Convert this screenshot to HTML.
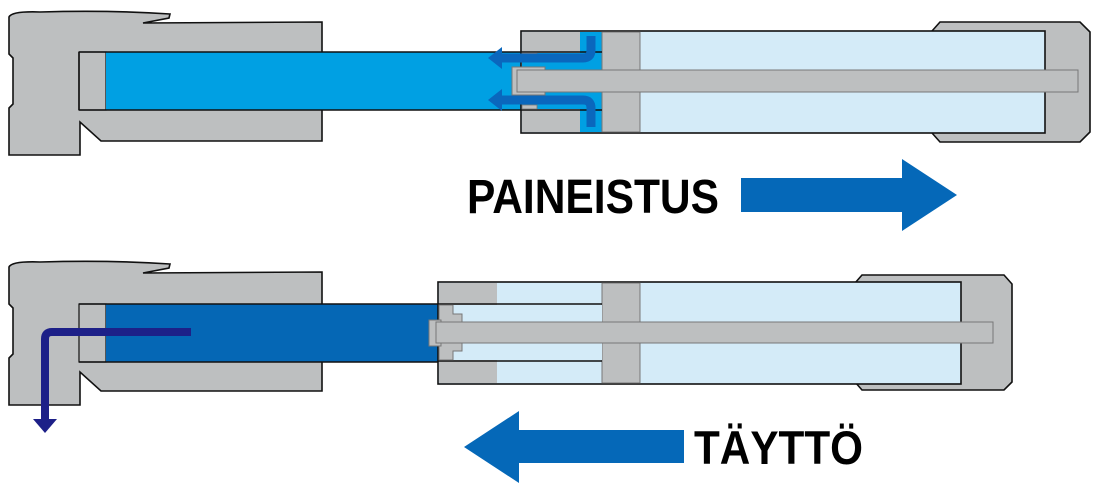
<!DOCTYPE html>
<html><head><meta charset="utf-8"><style>html,body{margin:0;padding:0;background:#fff}svg{display:block}</style></head>
<body>
<svg width="1104" height="487" viewBox="0 0 1104 487" xmlns="http://www.w3.org/2000/svg">
<defs>
<g id="body">
<path d="M9,17 Q12,11 40,12 Q110,10 170,14 L169,18 L143,23 L322,22 L322,141 L101,141 L80,122 L80,155 L9,155 L9,108 L13,104 L13,58 L9,54 Z" fill="#bdbfc0" stroke="#111" stroke-width="1.6"/>
</g>
</defs>
<!-- TOP -->
<use href="#body"/>
<rect x="79" y="52" width="27" height="58" fill="#bdbfc0" stroke="#111" stroke-width="1.2"/>
<rect x="106" y="52" width="420" height="58" fill="#00a0e3"/>
<line x1="79" y1="52" x2="602" y2="52" stroke="#111" stroke-width="1.6"/>
<line x1="79" y1="110" x2="602" y2="110" stroke="#111" stroke-width="1.6"/>
<line x1="79" y1="52" x2="79" y2="110" stroke="#111" stroke-width="1.6"/>
<!-- top right cylinder -->
<path d="M940,22 L1080,22 L1090,32 L1090,132 L1080,142 L940,142 L932,133 L932,31 Z" fill="#bdbfc0" stroke="#111" stroke-width="1.6"/>
<rect x="521" y="31" width="524" height="102" fill="#d4ebf8" stroke="#111" stroke-width="1.6"/>
<rect x="522" y="32" width="58" height="100" fill="#bdbfc0"/>
<rect x="580" y="32" width="22" height="100" fill="#00a0e3"/>
<rect x="522" y="53" width="80" height="56" fill="#00a0e3"/>
<rect x="602" y="32" width="38" height="100" fill="#bdbfc0" stroke="#777" stroke-width="1"/>
<line x1="521" y1="52" x2="602" y2="52" stroke="#111" stroke-width="1.6"/>
<line x1="521" y1="110" x2="602" y2="110" stroke="#111" stroke-width="1.6"/>
<rect x="522" y="53" width="15" height="4" fill="#bdbfc0" stroke="#777" stroke-width="0.8"/>
<rect x="522" y="105" width="15" height="4" fill="#bdbfc0" stroke="#777" stroke-width="0.8"/>
<rect x="512" y="67" width="33" height="28" fill="#bdbfc0" stroke="#777" stroke-width="1"/>
<rect x="517" y="70" width="561" height="22" fill="#bdbfc0" stroke="#777" stroke-width="1"/>
<!-- flow arrows top -->
<path d="M591,36 L591,50 Q591,58 583,58 L500,58" fill="none" stroke="#0a67bd" stroke-width="9"/>
<polygon points="488,58 502,47 502,69" fill="#0a67bd"/>
<path d="M591,127 L591,108 Q591,100 583,100 L500,100" fill="none" stroke="#0a67bd" stroke-width="9"/>
<polygon points="488,100 502,89 502,111" fill="#0a67bd"/>
<text x="467" y="213" font-family="Liberation Sans, sans-serif" font-weight="bold" font-size="48" textLength="252" lengthAdjust="spacingAndGlyphs" fill="#000">PAINEISTUS</text>
<polygon points="741,178 902,178 902,159 957,195 902,231 902,212 741,212" fill="#0568b8"/>
<!-- BOTTOM -->
<use href="#body" transform="translate(0,250)"/>
<rect x="79" y="304" width="27" height="58" fill="#bdbfc0" stroke="#111" stroke-width="1.2"/>
<rect x="106" y="304" width="334" height="58" fill="#0567b5"/>
<line x1="79" y1="304" x2="440" y2="304" stroke="#111" stroke-width="1.6"/>
<line x1="79" y1="362" x2="440" y2="362" stroke="#111" stroke-width="1.6"/>
<path d="M862,275 L1004,275 L1012,284 L1012,382 L1004,390 L862,390 L855,382 L855,283 Z" fill="#bdbfc0" stroke="#111" stroke-width="1.6"/>
<rect x="438" y="282" width="523" height="102" fill="#d4ebf8" stroke="#111" stroke-width="1.6"/>
<rect x="439" y="283" width="58" height="100" fill="#bdbfc0"/>
<rect x="602" y="283" width="38" height="100" fill="#bdbfc0" stroke="#777" stroke-width="1"/>
<line x1="438" y1="304" x2="602" y2="304" stroke="#111" stroke-width="1.6"/>
<line x1="438" y1="361" x2="602" y2="361" stroke="#111" stroke-width="1.6"/>
<rect x="439" y="305" width="163" height="55" fill="#d4ebf8"/>
<path d="M439,305 L453,305 L453,314 L462,314 L462,351 L453,351 L453,360 L439,360 Z" fill="#bdbfc0" stroke="#777" stroke-width="1"/>
<rect x="429" y="320" width="12" height="26" fill="#bdbfc0" stroke="#777" stroke-width="1"/>
<rect x="436" y="322" width="557" height="21" fill="#bdbfc0" stroke="#777" stroke-width="1"/>
<path d="M191,332 L52,332 Q45,332 45,339 L45,422" fill="none" stroke="#1d2088" stroke-width="8"/>
<polygon points="33,419 57,419 45,433" fill="#1d2088"/>
<polygon points="464,447 519,411 519,430 684,430 684,463 519,463 519,483" fill="#0568b8"/>
<text x="694" y="464" font-family="Liberation Sans, sans-serif" font-weight="bold" font-size="47" textLength="169" lengthAdjust="spacingAndGlyphs" fill="#000">TÄYTTÖ</text>
</svg>
</body></html>
